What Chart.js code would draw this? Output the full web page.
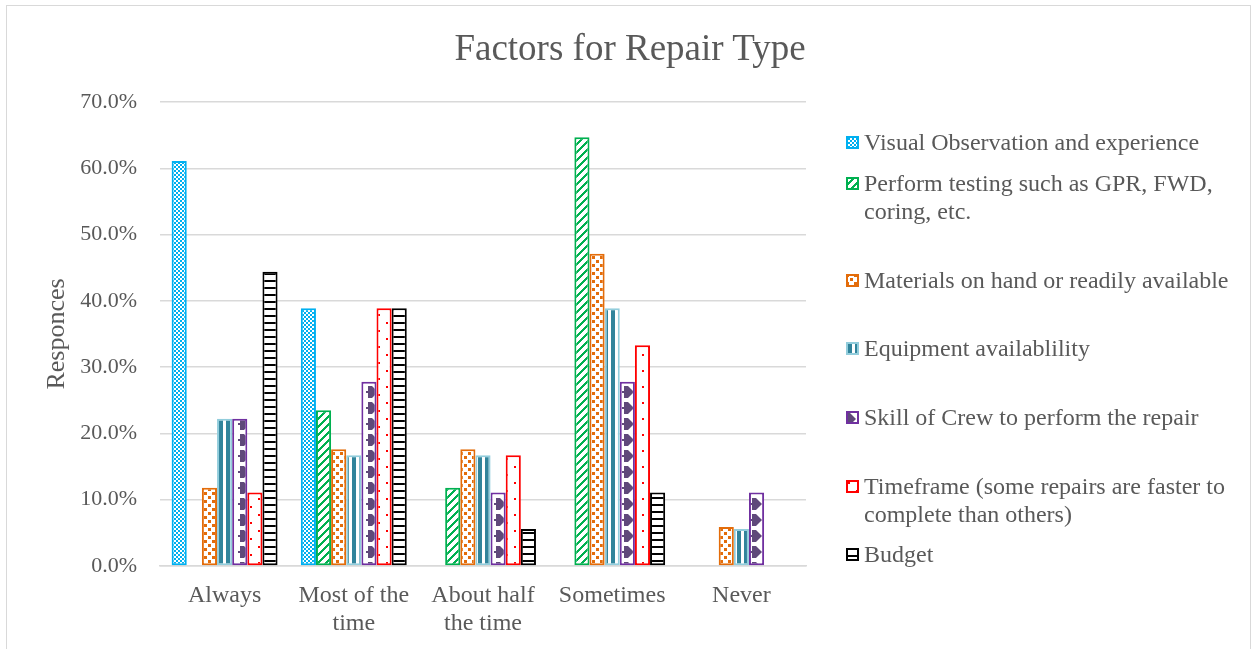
<!DOCTYPE html>
<html>
<head>
<meta charset="utf-8">
<script src="https://cdn.jsdelivr.net/npm/chart.js@4"></script>
<style>
  body { margin: 0; background: #fff; }
  #wrap { position: absolute; left: 0; top: 0; width: 1253px; height: 649px; }
  #frame { position: absolute; left: 6px; top: 5px; width: 1245px; height: 660px; border: 1px solid #d9d9d9; box-sizing: border-box; }
  #title { position: absolute; left: 0; width: 1260px; top: 26px; text-align: center; font-family: "Liberation Serif", serif; font-size: 37px; line-height: 44px; color: #595959; }
  #legend { position: absolute; left: 846px; top: 0; font-family: "Liberation Serif", serif; font-size: 24px; color: #595959; }
  .item { position: absolute; left: 0; width: 400px; line-height: 28px; }
  .item canvas { position: absolute; left: 0; top: 8px; }
  .item span { position: absolute; left: 18px; top: 0; white-space: nowrap; }
</style>
</head>
<body>
<div id="wrap">
  <div id="frame"></div>
  <canvas id="chart" width="1253" height="649"></canvas>
  <div id="title">Factors for Repair Type</div>
  <div id="legend"></div>
</div>
<script>
let categories = ["Always", ["Most of the", "time"], ["About half", "the time"], "Sometimes", "Never"];
let seriesNames = [
    "Visual Observation and experience",
    "Perform testing such as GPR, FWD,\ncoring, etc.",
    "Materials on hand or readily available",
    "Equipment availablility",
    "Skill of Crew to perform the repair",
    "Timeframe (some repairs are faster to\ncomplete than others)",
    "Budget"
];
let visualObs = [61.1, 38.9, 0, 0, 0];
let performTesting = [0, 23.5, 11.8, 64.7, 0];
let materials = [11.8, 17.6, 17.6, 47.1, 5.9];
let equipment = [22.2, 16.7, 16.7, 38.9, 5.6];
let skillCrew = [22.2, 27.8, 11.1, 27.8, 11.1];
let timeframe = [11.1, 38.9, 16.7, 33.3, 0];
let budget = [44.4, 38.9, 5.6, 11.1, 0];
let yTicks = [0, 10, 20, 30, 40, 50, 60, 70];

// first line of each legend entry (y, px)
let legendTops = [128, 169, 266, 334, 403, 472, 540];

function makeTile(w, h, draw) {
    let c = document.createElement("canvas");
    c.width = w;
    c.height = h;
    let g = c.getContext("2d");
    g.fillStyle = "#ffffff";
    g.fillRect(0, 0, w, h);
    draw(g);
    return c;
}

let tiles = [
    makeTile(4, 4, g => {
        g.fillStyle = "#00b0f0";
        g.fillRect(0, 0, 2, 2);
        g.fillRect(2, 2, 2, 2);
    }),
    makeTile(8, 8, g => {
        g.fillStyle = "#00b050";
        for (let i = 0; i < 8; i++) {
            g.fillRect(i, 7 - i, 3, 1);
            g.fillRect(i - 8, 7 - i, 3, 1);
        }
    }),
    makeTile(8, 8, g => {
        g.fillStyle = "#e36c0a";
        g.fillRect(0, 0, 3, 3);
        g.fillRect(4, 4, 3, 3);
    }),
    makeTile(7, 4, g => {
        g.fillStyle = "#31849b";
        g.fillRect(2, 0, 4, 4);
    }),
    makeTile(16, 16, g => {
        g.fillStyle = "#5f497a";
        g.beginPath();
        g.moveTo(0, 2);
        g.lineTo(4, 2);
        g.lineTo(10, 8);
        g.lineTo(4, 14);
        g.lineTo(0, 14);
        g.closePath();
        g.fill();
        g.fillRect(14, 7, 2, 2);
    }),
    makeTile(16, 16, g => {
        g.fillStyle = "#ff0000";
        g.fillRect(2, 2, 2, 2);
        g.fillRect(10, 10, 2, 2);
    }),
    makeTile(7, 7, g => {
        g.fillStyle = "#000000";
        g.fillRect(0, 0, 7, 2);
    })
];

let borderColors = ["#00b0f0", "#00b050", "#e36c0a", "#92cddc", "#7030a0", "#ff0000", "#000000"];
let allData = [visualObs, performTesting, materials, equipment, skillCrew, timeframe, budget];

let ctx = document.getElementById("chart").getContext("2d");
let patterns = tiles.map(t => ctx.createPattern(t, "repeat"));

let datasets = allData.map((d, i) => ({
    label: seriesNames[i],
    data: d,
    backgroundColor: patterns[i],
    borderColor: borderColors[i],
    borderWidth: 2,
    borderSkipped: false,
    barPercentage: 1,
    categoryPercentage: 0.82
}));

let serif = "'Liberation Serif', 'Times New Roman', serif";

new Chart(ctx, {
    type: "bar",
    data: { labels: categories, datasets: datasets },
    options: {
        responsive: false,
        animation: false,
        layout: { padding: { left: 0, right: 447, top: 102, bottom: 0 } },
        plugins: {
            legend: { display: false },
            tooltip: { enabled: false }
        },
        scales: {
            x: {
                grid: { display: false },
                border: { display: true, color: "#d9d9d9", width: 1.5 },
                ticks: {
                    color: "#595959",
                    font: { family: serif, size: 24, lineHeight: 1.167 },
                    padding: 8,
                    maxRotation: 0
                },
                afterFit: s => { s.height = 83; }
            },
            y: {
                min: 0,
                max: 70,
                afterBuildTicks: s => { s.ticks = yTicks.map(v => ({ value: v })); },
                grid: { color: "#d9d9d9", lineWidth: 1.5, drawTicks: false },
                border: { display: false },
                ticks: {
                    color: "#595959",
                    font: { family: serif, size: 22 },
                    padding: 23,
                    callback: v => v.toFixed(1) + "%"
                },
                title: {
                    display: true,
                    text: "Responces",
                    color: "#595959",
                    font: { family: serif, size: 26, weight: "normal" },
                    padding: { top: 42, bottom: 0 }
                },
                afterFit: s => { s.width = 160; }
            }
        }
    }
});

// legend
let legend = document.getElementById("legend");
seriesNames.forEach((name, i) => {
    let item = document.createElement("div");
    item.className = "item";
    item.style.top = legendTops[i] + "px";
    let sw = document.createElement("canvas");
    sw.width = 13;
    sw.height = 13;
    let g = sw.getContext("2d");
    g.fillStyle = g.createPattern(tiles[i], "repeat");
    g.fillRect(0, 0, 13, 13);
    g.strokeStyle = borderColors[i];
    g.lineWidth = 2;
    g.strokeRect(1, 1, 11, 11);
    item.appendChild(sw);
    let span = document.createElement("span");
    span.innerHTML = name.split("\n").join("<br>");
    item.appendChild(span);
    legend.appendChild(item);
});
</script>
</body>
</html>
